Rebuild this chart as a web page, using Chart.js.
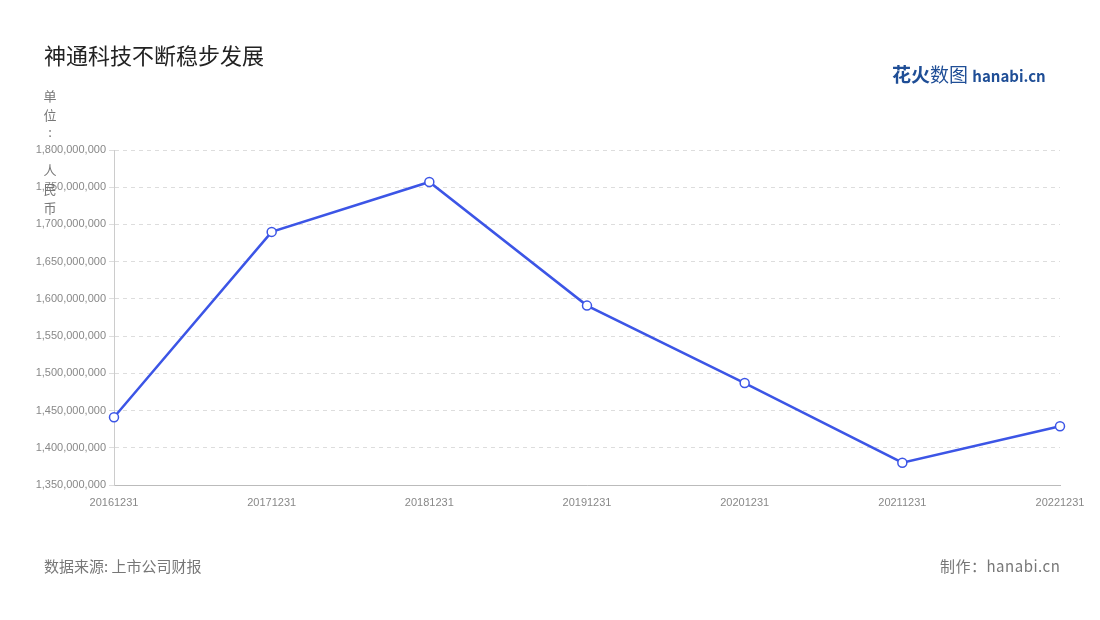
<!DOCTYPE html>
<html><head><meta charset="utf-8">
<script src="https://cdn.jsdelivr.net/npm/chart.js@4"></script>
<style>
body{margin:0;width:1100px;height:620px;background:#fff;font-family:"Noto Sans CJK SC","Noto Sans",sans-serif;position:relative;overflow:hidden}
#c{position:absolute;left:0;top:0}
.t{position:absolute;white-space:nowrap}
.u{position:absolute;left:43px;font-size:13px;color:#777;width:14px;text-align:center}
</style></head><body>
<canvas id="c" width="1100" height="620"></canvas>
<div class="t" style="left:44px;top:38px;font-size:22px;color:#222">神通科技不断稳步发展</div>
<div class="t" style="left:892px;top:60px;font-size:19px;font-weight:bold;color:#1f4e96">花火<span style="font-weight:normal">数图</span> <span style="font-size:15px">hanabi.cn</span></div>
<div class="t" style="left:44px;top:555px;font-size:15px;color:#777">数据来源: 上市公司财报</div>
<div class="t" style="left:940px;top:555px;font-size:15px;color:#777;letter-spacing:0.5px">制作：hanabi.cn</div>
<div class="u" style="top:86px">单</div>
<div class="u" style="top:105px">位</div>
<div class="u" style="top:122px">:</div>
<div class="u" style="top:160px">人</div>
<div class="u" style="top:179px">民</div>
<div class="u" style="top:198px">币</div>
<script>
const categories=["20161231","20171231","20181231","20191231","20201231","20211231","20221231"];
const values=[1441000000,1690000000,1757000000,1591000000,1487000000,1380000000,1429000000];
new Chart(document.getElementById('c'),{
type:'line',
data:{labels:categories,datasets:[{data:values,borderColor:'#3c55e6',borderWidth:2.5,tension:0,
pointRadius:4.5,pointBackgroundColor:'#fff',pointBorderColor:'#3c55e6',pointBorderWidth:1.5}]},
options:{responsive:false,animation:false,
layout:{padding:{left:0,right:40,top:150,bottom:110}},
plugins:{legend:{display:false},tooltip:{enabled:false}},
scales:{
x:{offset:false,grid:{display:false},border:{color:'#bbb'},
 ticks:{color:'#888',font:{size:11},maxRotation:0,autoSkip:false},
 afterFit(s){s.height=25;}},
y:{min:1350000000,max:1800000000,
 grid:{color:'#ddd',tickLength:5},border:{color:'#ccc',dash:[4,4]},
 ticks:{stepSize:50000000,color:'#888',font:{size:11},callback:v=>v.toLocaleString('en-US')},
 afterFit(s){s.width=114;}}
}}
});
</script>
</body></html>
